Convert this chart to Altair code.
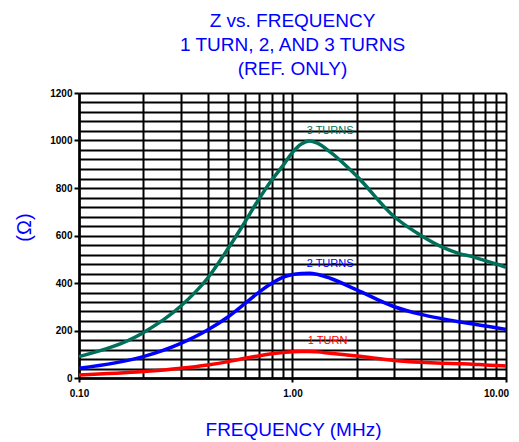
import altair as alt
import pandas as pd

freq = [0.1, 0.2, 0.3, 0.4, 0.5, 0.6, 0.7, 0.8, 0.9, 1.0, 1.1, 1.2, 1.3, 1.5, 2.0, 3.0, 4.0, 5.0, 6.0, 7.0, 8.0, 9.0, 10.0]
z3 = [90, 191, 303, 420, 546, 658, 757, 834, 893, 950, 985, 998, 990, 952, 850, 679, 600, 552, 525, 510, 494, 480, 466]
z2 = [41, 90, 146, 202, 258, 314, 363, 399, 424, 436, 440, 441, 437, 420, 371, 300, 268, 250, 237, 227, 219, 212, 205]
z1 = [13, 27, 41, 55, 69, 83, 94, 102, 107, 111, 112, 112, 110, 104, 93, 74, 66, 62, 60, 58, 55, 53, 51]

label_text = ["3 TURNS", "2 TURNS", "1 TURN"]
label_f = [1.5, 1.5, 1.46]
label_z = [1040, 480, 156]
series = ["3", "2", "1"]
colors = ["#00705a", "#0000ff", "#ff0000"]

x_grid = [0.1, 0.2, 0.3, 0.4, 0.5, 0.6, 0.7, 0.8, 0.9, 1, 2, 3, 4, 5, 6, 7, 8, 9, 10]
y_grid = list(range(0, 1201, 40))

rows = []
for s, vals in zip(series, [z3, z2, z1]):
    for f, v in zip(freq, vals):
        rows.append({"f": f, "z": v, "s": s})
df = pd.DataFrame(rows)
lab = pd.DataFrame({"f": label_f, "z": label_z, "t": label_text, "s": series})

color_scale = alt.Scale(domain=series, range=colors)
x_scale = alt.Scale(type="log", domain=[0.1, 10], nice=False)
y_scale = alt.Scale(domain=[0, 1200], nice=False)

x_axis = alt.Axis(values=x_grid, grid=True, gridColor="black", gridWidth=2, gridOpacity=1,
                  labelOverlap=False, labelFlush=False,
                  labelExpr="(datum.value==0.1||datum.value==1||datum.value==10) ? format(datum.value,'.2f') : ''",
                  labelOffset={"condition": {"test": "datum.value==10", "value": -10}, "value": 0},
                  tickColor={"condition": {"test": "datum.value==0.1||datum.value==1||datum.value==10", "value": "black"}, "value": "transparent"},
                  tickSize=4, tickWidth=2, labelPadding=6,
                  labelFont="Liberation Sans", labelFontWeight="bold", labelFontSize=10, labelColor="black",
                  domainColor="black", domainWidth=2.5,
                  title="FREQUENCY (MHz)", titleFont="Liberation Sans", titleFontSize=19,
                  titleFontWeight="normal", titleColor="#0000ff",
                  titleX=214, titleY=57, titleBaseline="alphabetic", titleAlign="center")
y_axis = alt.Axis(values=y_grid, grid=True, gridColor="black", gridWidth=2, gridOpacity=1,
                  labelOverlap=False,
                  labelExpr="datum.value % 200 == 0 ? datum.value : ''",
                  tickColor={"condition": {"test": "datum.value % 200 == 0", "value": "black"}, "value": "transparent"},
                  tickSize=5, tickWidth=2, labelPadding=2,
                  labelFont="Liberation Sans", labelFontWeight="bold", labelFontSize=10, labelColor="black",
                  domainColor="black", domainWidth=2.5,
                  title="(Ω)", titleFont="Liberation Sans", titleFontSize=20,
                  titleFontWeight="normal", titleColor="#0000ff",
                  titleX=-55, titleY=134, titleAngle=-90, titleBaseline="middle", titleAlign="center")

lines = alt.Chart(df).mark_line(strokeWidth=3.5, interpolate="monotone").encode(
    x=alt.X("f:Q", scale=x_scale, axis=x_axis),
    y=alt.Y("z:Q", scale=y_scale, axis=y_axis),
    color=alt.Color("s:N", scale=color_scale, legend=None),
    detail="s:N",
)

texts = alt.Chart(lab).mark_text(font="Liberation Sans", fontSize=11, align="center", baseline="middle").encode(
    x=alt.X("f:Q", scale=x_scale, axis=x_axis),
    y=alt.Y("z:Q", scale=y_scale, axis=y_axis),
    text="t:N",
    color=alt.Color("s:N", scale=color_scale, legend=None),
)

chart = alt.layer(lines, texts).properties(
    width=427, height=285,
    autosize=alt.AutoSizeParams(type="none"),
    padding={"left": 71, "top": 85, "right": 5, "bottom": 62},
    title=alt.Title(["Z vs. FREQUENCY", "1 TURN, 2, AND 3 TURNS", "(REF. ONLY)"],
                    font="Liberation Sans", fontSize=19, fontWeight="normal", color="#0000ff",
                    lineHeight=24, anchor="middle", offset=9),
).configure_view(strokeWidth=0).configure(background="white")

chart.save("out.html", embed_options={"renderer": "svg", "actions": False})
